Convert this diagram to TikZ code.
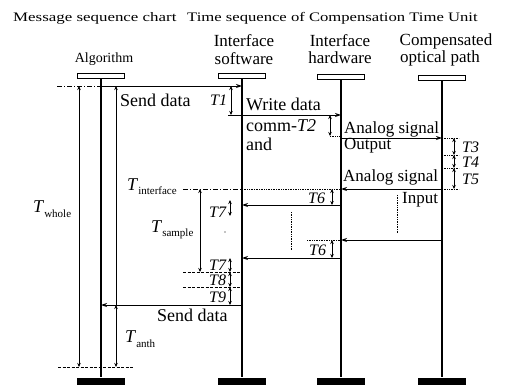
\documentclass[tikz,border=0pt]{standalone}
\usepackage{fontspec}
\setmainfont{Liberation Serif}
\usetikzlibrary{arrows.meta}
\newcommand{\Tsb}[1]{\textit{T}\raisebox{-5pt}{\fontsize{11}{11}\selectfont #1}}
\begin{document}
\begin{tikzpicture}[x=1pt,y=-1pt,
 lbl/.style={font=\fontsize{18}{18}\selectfont, inner sep=0pt, anchor=base west},
 tlbl/.style={font=\fontsize{16}{16}\selectfont\itshape, inner sep=0pt, anchor=base west},
 hdr/.style={font=\fontsize{17}{17}\selectfont, inner sep=0pt, anchor=base},
 ttl/.style={font=\fontsize{13}{13}\selectfont, inner sep=0pt, anchor=base west},
 life/.style={line width=1.1pt},
 msg/.style={line width=0.9pt,-{Stealth[length=6pt,width=4pt]}},
 dimb/.style={line width=0.9pt,{Stealth[length=4pt,width=3.5pt]}-{Stealth[length=4pt,width=3.5pt]}},
 dimt/.style={line width=0.9pt,{Stealth[length=4pt,width=3.5pt]}-},
 headbox/.style={draw,line width=1pt,minimum width=47pt,minimum height=5pt,inner sep=0pt},
 foot/.style={fill=black,minimum width=48pt,minimum height=7pt,inner sep=0pt},
 tickd/.style={line width=0.7pt,densely dotted},
 tickdd/.style={line width=0.7pt,dashed,dash pattern=on 3pt off 1.5pt},
]
\useasboundingbox (0,0) rectangle (505,387);

% title
\node[ttl] (t1) at (13,22) {\scalebox{1.3}[1]{Message sequence chart}};
\node[ttl] (t2) at (187,22) {\scalebox{1.28}[1]{Time sequence of Compensation Time Unit}};

% headers
\node[hdr, font=\fontsize{14}{14}\selectfont] (nA) at (104,63) {Algorithm};
\node[hdr] (nS1) at (244,47) {Interface};
\node[hdr] (nS2) at (244,65) {software};
\node[hdr] (nH1) at (340,47) {Interface};
\node[hdr] (nH2) at (340,64) {hardware};
\node[hdr] (nO1) at (446,46) {Compensated};
\node[hdr] (nO2) at (440,63) {optical path};

% lifeline heads and feet
\node[headbox] (hA) at (101,76) {};
\node[headbox] (hS) at (242,76.5) {};
\node[headbox] (hH) at (341,77.5) {};
\node[headbox] (hO) at (442,78.5) {};
\node[foot] (fA) at (101,381) {};
\node[foot] (fS) at (242,381) {};
\node[foot] (fH) at (341,381) {};
\node[foot] (fO) at (442,381) {};
\draw[life] (hA.south) -- (fA.north);
\draw[life] (hS.south) -- (fS.north);
\draw[life] (hH.south) -- (fH.north);
\draw[life] (hO.south) -- (fO.north);

% coordinates
\coordinate (d0) at (57,86);
\coordinate (a86) at (101,86);
\coordinate (s86) at (242,86);
\coordinate (s115) at (242,115);
\coordinate (h115) at (341,115);
\coordinate (h138) at (341,138);
\coordinate (o138) at (442,138);
\coordinate (o189) at (442,189);
\coordinate (h189) at (341,189);
\coordinate (h205) at (341,205);
\coordinate (s205) at (242,205);
\coordinate (o240) at (442,240);
\coordinate (h240) at (341,240);
\coordinate (h258) at (341,258);
\coordinate (s258) at (242,258);
\coordinate (s305) at (242,305);
\coordinate (a305) at (101,305);

% messages
\draw[line width=0.8pt, dash pattern=on 5pt off 2pt on 1pt off 2pt] (d0) -- (a86);
\draw[msg] (a86) -- (s86);
\draw[msg] (s115) -- (h115);
\draw[msg] (h138) -- (o138);
\draw[msg] (o189) -- (h189);
\draw[msg] (h205) -- (s205);
\draw[msg] (o240) -- (h240);
\draw[msg] (h258) -- (s258);
\draw[msg] (s305) -- (a305);

% reference lines
\coordinate (ti0) at (183,189);
\draw[line width=0.8pt, dash pattern=on 5pt off 2pt on 1pt off 2pt] (ti0) -- (s86 |- ti0);
\draw[tickd] (s86 |- ti0) -- (h189);
\coordinate (k1a) at (228,115);
\draw[line width=0.8pt] (k1a) -- (s115);
\coordinate (k2a) at (330,136);
\coordinate (k2b) at (341,136);
\draw[tickd] (k2a) -- (k2b);
\coordinate (k3a) at (442,138);
\coordinate (k3b) at (459,138);
\coordinate (k4a) at (442,155);
\coordinate (k4b) at (459,155);
\coordinate (k5a) at (442,168);
\coordinate (k5b) at (459,168);
\coordinate (k6b) at (459,189);
\draw[tickd] (k3a) -- (k3b);
\draw[tickd] (k4a) -- (k4b);
\draw[tickd] (k5a) -- (k5b);
\draw[tickd] (o189) -- (k6b);
\coordinate (k7a) at (307,240);
\draw[tickd] (k7a) -- (h240);
\coordinate (k8a) at (183,272);
\coordinate (k8b) at (242,272);
\coordinate (k9a) at (183,287);
\coordinate (k9b) at (242,287);
\draw[tickdd] (k8a) -- (k8b);
\draw[tickdd] (k9a) -- (k9b);
\coordinate (be0) at (58,367);
\coordinate (be1) at (133,367);
\draw[tickdd] (be0) -- (be1);
\coordinate (v1a) at (397,195);
\coordinate (v1b) at (397,233);
\draw[tickd] (v1a) -- (v1b);
\coordinate (v2a) at (291,212);
\coordinate (v2b) at (291,250);
\draw[tickd] (v2a) -- (v2b);
\fill (225,232) circle (0.7);

% dimension arrows
\coordinate (w1) at (79,86);
\coordinate (w2) at (79,367);
\draw[dimb] (w1) -- (w2);
\coordinate (x1) at (116,86);
\coordinate (x2) at (116,305);
\coordinate (x3) at (116,367);
\draw[dimt] (x1) -- (x2);
\draw[dimb] (x2) -- (x3);
\coordinate (r1a) at (231,86);
\coordinate (r1b) at (231,115);
\draw[dimb] (r1a) -- (r1b);
\coordinate (r2a) at (330,115);
\coordinate (r2b) at (330,136);
\draw[dimb] (r2a) -- (r2b);
\coordinate (r3a) at (454,138);
\coordinate (r3b) at (454,155);
\coordinate (r4b) at (454,168);
\coordinate (r5b) at (454,189);
\draw[dimb] (r3a) -- (r3b);
\draw[dimb] (r3b) -- (r4b);
\draw[dimb] (r4b) -- (r5b);
\coordinate (sa) at (200,189);
\coordinate (sb) at (200,272);
\draw[dimb] (sa) -- (sb);
\coordinate (r6a) at (332,189);
\coordinate (r6b) at (332,205);
\draw[dimb] (r6a) -- (r6b);
\coordinate (r6c) at (332,240);
\coordinate (r6d) at (332,258);
\draw[dimb] (r6c) -- (r6d);
\coordinate (r7a) at (230,200);
\coordinate (r7b) at (230,216);
\draw[dimb] (r7a) -- (r7b);
\coordinate (r8a) at (230,258);
\coordinate (r8b) at (230,272);
\coordinate (r8c) at (230,287);
\coordinate (r8d) at (230,305);
\draw[dimb] (r8a) -- (r8b);
\draw[dimb] (r8b) -- (r8c);
\draw[dimb] (r8c) -- (r8d);

% texts
\node[lbl] (sd1) at (120,107) {Send data};
\node[tlbl] (l1) at (210,106) {T1};
\node[lbl] (wd) at (246,111) {Write data};
\node[lbl] (cm) at (246,132) {comm-\textit{T2}};
\node[lbl] (an) at (246,151) {and};
\node[lbl, font=\fontsize{17}{17}\selectfont] (as1) at (344,134) {Analog signal};
\node[lbl, font=\fontsize{17}{17}\selectfont] (op) at (344,150) {Output};
\node[tlbl] (l3) at (462,153) {T3};
\node[tlbl] (l4) at (462,168) {T4};
\node[tlbl] (l5) at (462,185) {T5};
\node[lbl, font=\fontsize{17}{17}\selectfont] (as2) at (343,182) {Analog signal};
\node[lbl, font=\fontsize{17}{17}\selectfont] (in) at (402,204) {Input};
\node[tlbl] (l6a) at (308,204) {T6};
\node[tlbl] (l6b) at (309,255) {T6};
\node[tlbl] (l7a) at (209,218) {T7};
\node[tlbl] (l7b) at (209,270) {T7};
\node[tlbl] (l8) at (209,285) {T8};
\node[tlbl] (l9) at (209,302) {T9};
\node[lbl] (sd2) at (157,321) {Send data};
\node[lbl] (ti) at (127,190) {\Tsb{interface}};
\node[lbl] (ts) at (151,232) {\Tsb{sample}};
\node[lbl] (tw) at (33,212) {\Tsb{whole}};
\node[lbl] (ta) at (125,342) {\Tsb{anth}};
\end{tikzpicture}
\end{document}
